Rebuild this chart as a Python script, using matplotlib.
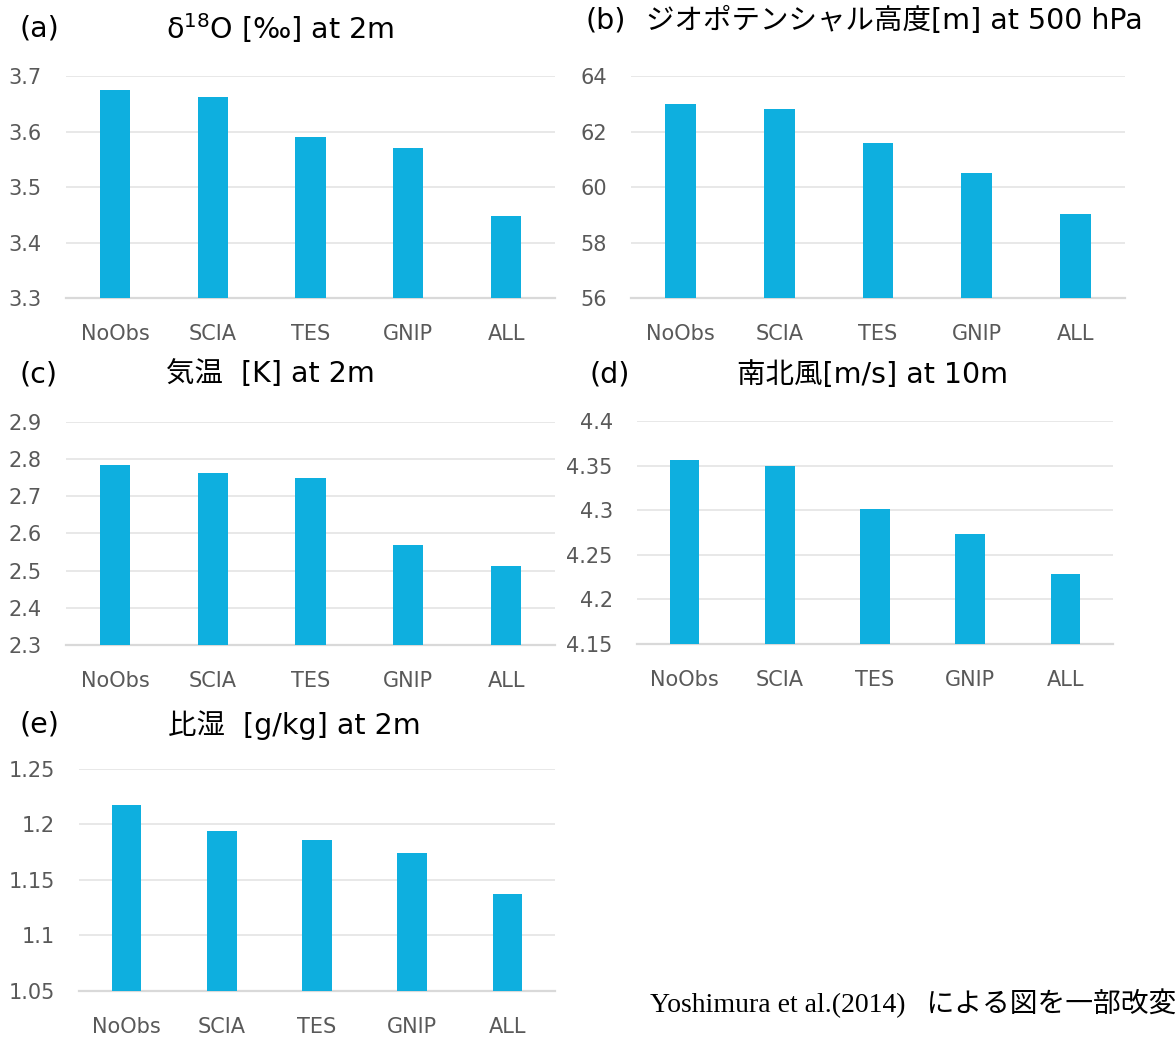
import matplotlib
matplotlib.use('Agg')
import matplotlib.pyplot as plt

plt.rcParams['font.family'] = ['DejaVu Sans', 'Noto Sans CJK JP']

# データ
cats = ['NoObs', 'SCIA', 'TES', 'GNIP', 'ALL']

d18o = [3.675, 3.663, 3.590, 3.570, 3.447]
d18o_ticks = [3.3, 3.4, 3.5, 3.6, 3.7]
d18o_labels = ['3.3', '3.4', '3.5', '3.6', '3.7']

z500 = [62.99, 62.82, 61.59, 60.52, 59.01]
z500_ticks = [56, 58, 60, 62, 64]
z500_labels = ['56', '58', '60', '62', '64']

t2m = [2.783, 2.762, 2.750, 2.570, 2.513]
t2m_ticks = [2.3, 2.4, 2.5, 2.6, 2.7, 2.8, 2.9]
t2m_labels = ['2.3', '2.4', '2.5', '2.6', '2.7', '2.8', '2.9']

v10 = [4.3566, 4.349, 4.301, 4.2735, 4.229]
v10_ticks = [4.15, 4.2, 4.25, 4.3, 4.35, 4.4]
v10_labels = ['4.15', '4.2', '4.25', '4.3', '4.35', '4.4']

q2m = [1.218, 1.1944, 1.186, 1.1743, 1.1374]
q2m_ticks = [1.05, 1.1, 1.15, 1.2, 1.25]
q2m_labels = ['1.05', '1.1', '1.15', '1.2', '1.25']

W, H = 1175, 1042
BAR = '#0eafdf'
TICK = '#595959'


def px_axes(fig, x0, x1, ytop, ybot):
    return fig.add_axes([x0 / W, (H - ybot) / H, (x1 - x0) / W, (ybot - ytop) / H])


def draw_bar(ax, vals, ticks, labels):
    ax.bar(range(len(cats)), vals, width=0.31, color=BAR, zorder=3)
    ax.set_xlim(-0.5, len(cats) - 0.5)
    ax.set_ylim(ticks[0], ticks[-1])
    ax.set_yticks(ticks)
    ax.set_yticklabels(labels)
    ax.set_xticks(range(len(cats)))
    ax.set_xticklabels(cats)
    ax.grid(axis='y', color='#e6e6e6', lw=1.3, zorder=0)
    ax.set_axisbelow(True)
    for s in ['top', 'right', 'left']:
        ax.spines[s].set_visible(False)
    ax.spines['bottom'].set_color('#d9d9d9')
    ax.spines['bottom'].set_linewidth(1.6)
    ax.tick_params(axis='y', length=0, pad=17.5, labelsize=15, labelcolor=TICK)
    ax.tick_params(axis='x', length=0, pad=19, labelsize=15, labelcolor=TICK)


def ftext(x, y, s, **kw):
    fig.text(x / W, 1 - y / H, s, va='center', **kw)


fig = plt.figure(figsize=(W / 100, H / 100), dpi=100)

ax = px_axes(fig, 66, 555, 76, 298)
draw_bar(ax, d18o, d18o_ticks, d18o_labels)
ax = px_axes(fig, 631, 1125, 76, 298)
draw_bar(ax, z500, z500_ticks, z500_labels)
ax = px_axes(fig, 66, 555, 422, 645)
draw_bar(ax, t2m, t2m_ticks, t2m_labels)
ax = px_axes(fig, 637, 1113, 421, 644)
draw_bar(ax, v10, v10_ticks, v10_labels)
ax = px_axes(fig, 79, 555, 769, 991)
draw_bar(ax, q2m, q2m_ticks, q2m_labels)

tf = dict(fontsize=20.5, family=['DejaVu Sans', 'Noto Sans CJK JP'])
ftext(20, 28, '(a)', **tf)
ftext(166, 28, r'δ$^{18}$O [‰] at 2m', **tf)
ftext(586, 21, '(b)', **tf)
ftext(646, 21, 'ジオポテンシャル高度[m] at 500 hPa', **tf)
ftext(20, 374, '(c)', **tf)
ftext(166, 374, '気温  [K] at 2m', **tf)
ftext(589, 375, '(d)', **tf)
ftext(737, 375, '南北風[m/s] at 10m', **tf)
ftext(20, 725, '(e)', **tf)
ftext(168, 725, '比湿  [g/kg] at 2m', **tf)

ftext(650, 1003, 'Yoshimura et al.(2014)   による図を一部改変',
      fontsize=20, family=['Liberation Serif', 'Noto Sans CJK JP'])

plt.savefig('out.png', dpi=100)
